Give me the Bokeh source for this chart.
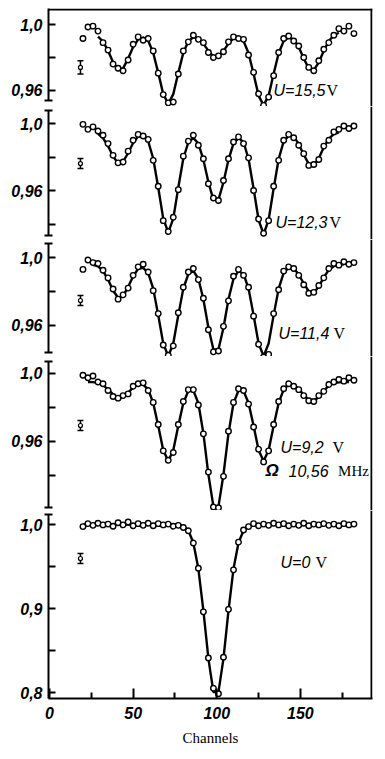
from bokeh.plotting import figure
from bokeh.models import Range1d, LinearAxis, FixedTicker, Label, Whisker, TeeHead, ColumnDataSource
from bokeh.layouts import column
from bokeh.embed import file_html
from bokeh.resources import INLINE

nan = float("nan")

# ---------------- data ----------------
channels = [20, 23, 26, 29, 32, 35, 38, 41, 44, 47,
            50, 53, 56, 59, 62, 65, 68, 71, 74, 77,
            80, 83, 86, 89, 92, 95, 98, 101, 104, 107,
            110, 113, 116, 119, 122, 125, 128, 131, 134, 137,
            140, 143, 146, 149, 152, 155, 158, 161, 164, 167,
            170, 173, 176, 179, 182]

data_155 = [0.9915, 0.9985, 0.9990, 0.9960, 0.9890, 0.9845, 0.9760, 0.9735, 0.9720, 0.9785,
            0.9880, 0.9925, 0.9905, 0.9915, 0.9840, 0.9705, 0.9575, 0.9525, 0.9530, 0.9700,
            0.9840, 0.9895, 0.9935, 0.9910, 0.9890, 0.9830, 0.9800, 0.9810, 0.9835, 0.9895,
            0.9925, 0.9915, 0.9910, 0.9815, 0.9710, 0.9580, 0.9510, 0.9560, 0.9690, 0.9830,
            0.9915, 0.9930, 0.9900, 0.9870, 0.9800, 0.9740, 0.9720, 0.9780, 0.9850, 0.9890,
            0.9935, 0.9975, 0.9960, 0.9990, 0.9945]
fit_155 = [nan, nan, nan, 0.9926, 0.9897, 0.9841, 0.9771, 0.9724, 0.9734, 0.9794,
           0.9863, 0.9910, 0.9921, 0.9901, 0.9829, 0.9707, 0.9578, 0.9520, 0.9578, 0.9707,
           0.9829, 0.9899, 0.9922, 0.9917, 0.9884, 0.9840, 0.9805, 0.9805, 0.9840, 0.9884,
           0.9917, 0.9922, 0.9900, 0.9826, 0.9702, 0.9569, 0.9510, 0.9569, 0.9702, 0.9826,
           0.9900, 0.9921, 0.9910, 0.9863, 0.9794, 0.9734, 0.9724, 0.9771, 0.9841, 0.9900,
           0.9935, 0.9950, nan, nan, nan]

data_123 = [0.9995, 0.9965, 0.9980, 0.9955, 0.9930, 0.9880, 0.9810, 0.9765, 0.9770, 0.9835,
            0.9900, 0.9935, 0.9925, 0.9905, 0.9780, 0.9625, 0.9420, 0.9355, 0.9440, 0.9605,
            0.9805, 0.9895, 0.9930, 0.9870, 0.9790, 0.9640, 0.9555, 0.9540, 0.9660, 0.9790,
            0.9890, 0.9920, 0.9880, 0.9795, 0.9600, 0.9430, 0.9345, 0.9420, 0.9625, 0.9780,
            0.9900, 0.9935, 0.9915, 0.9870, 0.9820, 0.9750, 0.9755, 0.9785, 0.9865, 0.9900,
            0.9950, 0.9965, 0.9985, 0.9970, 0.9985]
fit_123 = [nan, nan, nan, 0.9938, 0.9913, 0.9865, 0.9804, 0.9763, 0.9772, 0.9824,
           0.9884, 0.9924, 0.9927, 0.9894, 0.9791, 0.9618, 0.9432, 0.9350, 0.9432, 0.9618,
           0.9791, 0.9888, 0.9914, 0.9881, 0.9783, 0.9649, 0.9545, 0.9545, 0.9649, 0.9783,
           0.9881, 0.9914, 0.9888, 0.9788, 0.9612, 0.9424, 0.9340, 0.9424, 0.9612, 0.9788,
           0.9893, 0.9927, 0.9922, 0.9878, 0.9814, 0.9758, 0.9748, 0.9792, 0.9858, 0.9910,
           0.9937, 0.9947, nan, nan, nan]

data_114 = [0.9930, 0.9985, 0.9970, 0.9965, 0.9925, 0.9880, 0.9815, 0.9755, 0.9780, 0.9820,
            0.9895, 0.9945, 0.9960, 0.9915, 0.9805, 0.9670, 0.9485, 0.9425, 0.9480, 0.9675,
            0.9825, 0.9915, 0.9935, 0.9870, 0.9760, 0.9575, 0.9445, 0.9450, 0.9595, 0.9745,
            0.9890, 0.9930, 0.9895, 0.9825, 0.9655, 0.9490, 0.9415, 0.9430, 0.9670, 0.9810,
            0.9920, 0.9945, 0.9935, 0.9895, 0.9840, 0.9790, 0.9795, 0.9835, 0.9880, 0.9935,
            0.9965, 0.9955, 0.9975, 0.9960, 0.9970]
fit_114 = [nan, nan, 0.9957, 0.9948, 0.9921, 0.9870, 0.9806, 0.9763, 0.9773, 0.9827,
           0.9890, 0.9933, 0.9939, 0.9909, 0.9817, 0.9661, 0.9494, 0.9420, 0.9494, 0.9661,
           0.9817, 0.9903, 0.9921, 0.9875, 0.9754, 0.9587, 0.9459, 0.9459, 0.9587, 0.9754,
           0.9875, 0.9921, 0.9903, 0.9817, 0.9661, 0.9494, 0.9420, 0.9494, 0.9661, 0.9817,
           0.9909, 0.9940, 0.9937, 0.9900, 0.9847, 0.9801, 0.9793, 0.9829, 0.9884, 0.9927,
           0.9949, 0.9957, 0.9960, nan, nan]

data_92 = [0.9990, 0.9975, 0.9985, 0.9950, 0.9940, 0.9900, 0.9865, 0.9855, 0.9870, 0.9880,
           0.9925, 0.9940, 0.9945, 0.9900, 0.9830, 0.9700, 0.9545, 0.9490, 0.9535, 0.9700,
           0.9835, 0.9905, 0.9905, 0.9815, 0.9645, 0.9420, 0.9215, 0.9210, 0.9395, 0.9660,
           0.9830, 0.9910, 0.9900, 0.9820, 0.9685, 0.9555, 0.9480, 0.9545, 0.9700, 0.9835,
           0.9910, 0.9940, 0.9925, 0.9905, 0.9870, 0.9840, 0.9835, 0.9870, 0.9895, 0.9935,
           0.9950, 0.9965, 0.9955, 0.9975, 0.9960]
fit_92 = [nan, 0.9950, 0.9949, 0.9944, 0.9932, 0.9907, 0.9877, 0.9857, 0.9861, 0.9887,
          0.9917, 0.9937, 0.9934, 0.9906, 0.9827, 0.9692, 0.9549, 0.9485, 0.9549, 0.9692,
          0.9827, 0.9897, 0.9900, 0.9825, 0.9648, 0.9405, 0.9217, 0.9217, 0.9405, 0.9648,
          0.9825, 0.9900, 0.9897, 0.9827, 0.9692, 0.9549, 0.9485, 0.9549, 0.9692, 0.9827,
          0.9906, 0.9934, 0.9934, 0.9910, 0.9874, 0.9843, 0.9838, 0.9862, 0.9899, 0.9928,
          0.9943, 0.9948, 0.9950, 0.9950, nan]

data_0 = [0.9975, 1.0010, 0.9990, 1.0015, 0.9995, 1.0005, 0.9980, 1.0020, 0.9995, 1.0030,
          0.9985, 1.0010, 0.9990, 1.0015, 0.9985, 1.0010, 0.9995, 1.0005, 0.9980, 0.9990,
          0.9965, 0.9925, 0.9780, 0.9480, 0.8960, 0.8410, 0.8050, 0.7985, 0.8420, 0.8990,
          0.9460, 0.9790, 0.9935, 0.9975, 1.0010, 0.9985, 1.0005, 0.9990, 1.0015, 0.9995,
          1.0010, 0.9985, 1.0005, 0.9990, 1.0015, 0.9985, 1.0005, 0.9995, 1.0010, 0.9990,
          1.0005, 0.9985, 1.0010, 0.9995, 1.0005]
fit_0 = [1.0, 1.0, 1.0, 1.0, 1.0, 1.0, 1.0, 1.0, 1.0, 1.0,
         1.0, 1.0, 1.0, 1.0, 1.0, 1.0, 1.0, 1.0, 1.0, 1.0,
         0.9985, 0.9928, 0.9783, 0.9473, 0.8975, 0.8403, 0.8005, 0.8005, 0.8403, 0.8975,
         0.9473, 0.9783, 0.9928, 0.9985, 1.0, 1.0, 1.0, 1.0, 1.0, 1.0,
         1.0, 1.0, 1.0, 1.0, 1.0, 1.0, 1.0, 1.0, 1.0, 1.0,
         1.0, 1.0, 1.0, 1.0, 1.0]

voltage_labels = ["U=15,5", "U=12,3", "U=11,4", "U=9,2", "U=0"]
error_channel = 18.5
error_centre = [0.9740, 0.9761, 0.9747, 0.9694, 0.9595]
error_half = [0.0040, 0.0030, 0.0030, 0.0030, 0.0060]
x_ticks = [0, 50, 100, 150]
x_minor_ticks = [25, 75, 125, 175]

# ---------------- layout / styling ----------------
FONT = "Liberation Sans"
SERIF = "Liberation Serif"
x_range = Range1d(-0.6, 193.1)

panels = [
    dict(data=data_155, fit=fit_155, h=98, yr=(0.95030, 1.00970), bounds=(0.95394, 1.00970),
         major={0.96: "0,96", 0.98: "", 1.0: "1,0"}, breaks=[0.95395],
         lab=(133.9, 0.9600, 165.6)),
    dict(data=data_123, fit=fit_123, h=133, yr=(0.93075, 1.01015), bounds=(0.93313, 1.00776),
         major={0.94: "", 0.96: "0,96", 0.98: "", 1.0: "1,0"}, breaks=[0.93314, 1.00775],
         lab=(135.1, 0.9409, 167.4)),
    dict(data=data_114, fit=fit_114, h=117, yr=(0.94176, 1.01059), bounds=(0.94412, 1.00824),
         major={0.96: "0,96", 0.98: "", 1.0: "1,0"}, breaks=[0.94413, 1.00823],
         lab=(136.9, 0.9553, 169.8)),
    dict(data=data_92, fit=fit_92, h=154, yr=(0.91941, 1.01000), bounds=(0.92118, 1.00706),
         major={0.94: "", 0.96: "0,96", 0.98: "", 1.0: "1,0"}, breaks=[0.92119, 1.00705],
         lab=(138.1, 0.9565, 169.2)),
    dict(data=data_0, fit=fit_0, h=188, yr=(0.79286, 1.01667), bounds=(0.79286, 1.01190),
         major={0.8: "0,8", 0.85: "", 0.9: "0,9", 0.95: "", 1.0: "1,0"}, breaks=[1.01189],
         lab=(138.1, 0.9548, 159.0)),
]

figs = []
n = len(panels)
for i, cfg in enumerate(panels):
    first, last = i == 0, i == n - 1
    ylo, yhi = cfg["yr"]
    p = figure(frame_width=324, frame_height=cfg["h"], x_range=x_range,
               y_range=Range1d(ylo, yhi), output_backend="svg", toolbar_location=None,
               x_axis_location=None, y_axis_location=None,
               min_border_left=48, min_border_right=12,
               min_border_top=8 if first else 0, min_border_bottom=0)
    p.grid.visible = False
    p.outline_line_color = None
    p.background_fill_color = "white"
    p.border_fill_color = "white"

    ya = LinearAxis(bounds=cfg["bounds"],
                    ticker=FixedTicker(ticks=list(cfg["major"].keys()), minor_ticks=cfg["breaks"]),
                    major_label_overrides=cfg["major"],
                    major_tick_in=7, major_tick_out=0, minor_tick_in=4, minor_tick_out=4,
                    major_tick_line_width=2, minor_tick_line_width=2,
                    axis_line_width=2, major_label_standoff=2,
                    major_label_text_font=FONT, major_label_text_font_style="bold italic",
                    major_label_text_font_size="16px", major_label_text_color="black")
    p.add_layout(ya, "left")

    # frame edges: right side of every panel, top of the first one (taken from the ranges)
    edge_x = x_range.end - 0.6
    p.segment(x0=[edge_x], y0=[ylo], x1=[edge_x], y1=[yhi], line_color="black", line_width=2)
    if first:
        edge_y = yhi - 0.0006
        p.segment(x0=[x_range.start], y0=[edge_y], x1=[x_range.end], y1=[edge_y],
                  line_color="black", line_width=2)
    if last:
        xa = LinearAxis(ticker=FixedTicker(ticks=x_ticks, minor_ticks=x_minor_ticks),
                        major_tick_in=10, major_tick_out=0, minor_tick_in=6, minor_tick_out=0,
                        major_tick_line_width=2, minor_tick_line_width=2, axis_line_width=2,
                        major_label_standoff=8, major_label_text_color="black",
                        major_label_text_font=FONT, major_label_text_font_style="bold italic",
                        major_label_text_font_size="16px",
                        axis_label="Channels", axis_label_text_font=SERIF,
                        axis_label_text_color="black",
                        axis_label_text_font_style="normal", axis_label_text_font_size="15px",
                        axis_label_standoff=8)
        p.add_layout(xa, "below")

    p.line(channels, cfg["fit"], line_color="black", line_width=2.4)
    p.scatter(channels, cfg["data"], marker="circle", size=5.5, line_color="black",
              line_width=1.4, fill_color="white")

    src = ColumnDataSource(dict(x=[error_channel],
                                lo=[error_centre[i] - error_half[i]],
                                hi=[error_centre[i] + error_half[i]],
                                y=[error_centre[i]]))
    p.add_layout(Whisker(source=src, base="x", lower="lo", upper="hi", dimension="height",
                         line_color="black", line_width=1.5,
                         upper_head=TeeHead(size=6, line_width=1.5, line_color="black"),
                         lower_head=TeeHead(size=6, line_width=1.5, line_color="black")))
    p.scatter("x", "y", source=src, marker="circle", size=4, line_color="black",
              line_width=1.2, fill_color="white")

    lx, ly, vx = cfg["lab"]
    p.add_layout(Label(x=lx, y=ly, text=voltage_labels[i], text_font=FONT,
                       text_font_style="italic", text_font_size="16px",
                       text_baseline="middle", text_align="left", text_color="black"))
    p.add_layout(Label(x=vx, y=ly, text="V", text_font=SERIF, text_font_style="normal",
                       text_font_size="16px", text_baseline="middle", text_align="left",
                       text_color="black"))
    if i == 3:
        p.add_layout(Label(x=129.1, y=0.9429, text="Ω", text_font=FONT,
                           text_font_style="bold italic", text_font_size="17px",
                           text_baseline="middle", text_color="black"))
        p.add_layout(Label(x=142.9, y=0.9429, text="10,56", text_font=FONT,
                           text_font_style="italic", text_font_size="16px",
                           text_baseline="middle", text_color="black"))
        p.add_layout(Label(x=172.5, y=0.9429, text="MHz", text_font=SERIF,
                           text_font_style="normal", text_font_size="15px",
                           text_baseline="middle", text_color="black"))
    figs.append(p)

layout = column(*figs, spacing=0)
open("out.html", "w").write(file_html(layout, INLINE))
